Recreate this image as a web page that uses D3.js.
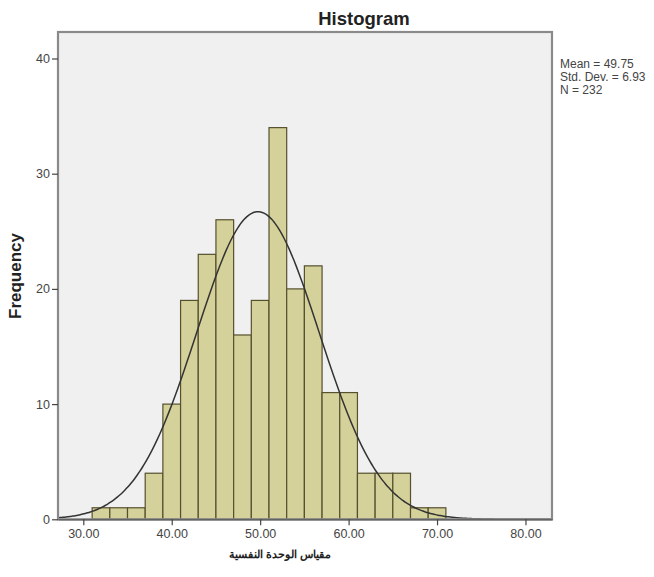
<!DOCTYPE html>
<html>
<head>
<meta charset="utf-8">
<script src="https://cdn.jsdelivr.net/npm/d3@7"></script>
<style>
  body { margin: 0; background: #fff; }
  text { font-family: "Liberation Sans", Arial, sans-serif; }
</style>
</head>
<body>
<svg id="chart" width="654" height="577"></svg>
<script>
// histogram bins (lower edge) and counts
const binStarts = [31, 33, 35, 37, 39, 41, 43, 45, 47, 49, 51, 53, 55, 57, 59, 61, 63, 65, 67, 69];
const counts = [1, 1, 1, 4, 10, 19, 23, 26, 16, 19, 34, 20, 22, 11, 11, 4, 4, 4, 1, 1];
const binWidth = 2;
const xTicks = [30, 40, 50, 60, 70, 80];
const yTicks = [0, 10, 20, 30, 40];
const stats = { mean: 49.75, sd: 6.93, n: 232 };
const legendLines = ["Mean = 49.75", "Std. Dev. = 6.93", "N = 232"];
const xTitle = "مقياس الوحدة النفسية";

const svg = d3.select("#chart");
const plot = { left: 58, top: 32, right: 552, bottom: 519.3 };

const x = d3.scaleLinear().domain([27.14, 83.0]).range([plot.left, plot.right]);
const y = d3.scaleLinear().domain([0, 42.3]).range([plot.bottom, plot.top]);

// background
svg.append("rect")
  .attr("x", plot.left).attr("y", plot.top)
  .attr("width", plot.right - plot.left).attr("height", plot.bottom - plot.top)
  .attr("fill", "#f0f0f0");

svg.append("clipPath").attr("id", "clip")
  .append("rect")
  .attr("x", plot.left).attr("y", plot.top)
  .attr("width", plot.right - plot.left).attr("height", plot.bottom - plot.top);

// bars
svg.append("g").selectAll("rect")
  .data(binStarts.map((b, i) => ({ x0: b, x1: b + binWidth, c: counts[i] })))
  .join("rect")
  .attr("x", d => x(d.x0))
  .attr("y", d => y(d.c))
  .attr("width", d => x(d.x1) - x(d.x0))
  .attr("height", d => y(0) - y(d.c))
  .attr("fill", "#d5d19a")
  .attr("stroke", "#55502e")
  .attr("stroke-width", 1.2);

// normal curve
const k = stats.n * binWidth / (stats.sd * Math.sqrt(2 * Math.PI));
const curvePts = d3.range(200).map(i => {
  const v = x.domain()[0] + (x.domain()[1] - x.domain()[0]) * i / 199;
  return [v, k * Math.exp(-0.5 * ((v - stats.mean) / stats.sd) ** 2)];
});
svg.append("path")
  .datum(curvePts)
  .attr("clip-path", "url(#clip)")
  .attr("fill", "none")
  .attr("stroke", "#333")
  .attr("stroke-width", 1.5)
  .attr("d", d3.line().x(d => x(d[0])).y(d => y(d[1])).curve(d3.curveBasis));

// frame
svg.append("rect")
  .attr("x", plot.left).attr("y", plot.top)
  .attr("width", plot.right - plot.left).attr("height", plot.bottom - plot.top)
  .attr("fill", "none")
  .attr("stroke", "#8a8a8a")
  .attr("stroke-width", 2.2);

// axes
const xAxis = svg.append("g")
  .attr("transform", `translate(0,${plot.bottom})`)
  .call(d3.axisBottom(x).tickValues(xTicks).tickFormat(d3.format(".2f"))
    .tickSize(6).tickSizeOuter(0).tickPadding(4));
const yAxis = svg.append("g")
  .attr("transform", `translate(${plot.left},0)`)
  .call(d3.axisLeft(y).tickValues(yTicks).tickFormat(d3.format("d"))
    .tickSize(6).tickSizeOuter(0).tickPadding(2));
[xAxis, yAxis].forEach(a => {
  a.select(".domain").attr("stroke", "#555").attr("stroke-width", 1.2);
  a.selectAll(".tick line").attr("stroke", "#444").attr("stroke-width", 1.2);
  a.selectAll(".tick text").attr("fill", "#444").attr("font-size", 12.5)
    .attr("font-family", "Liberation Sans, Arial, sans-serif");
});
yAxis.select(".domain").remove();

// titles
svg.append("text")
  .attr("x", 364).attr("y", 25)
  .attr("text-anchor", "middle")
  .attr("font-size", 18.5).attr("font-weight", "bold")
  .attr("fill", "#222")
  .text("Histogram");

svg.append("text")
  .attr("transform", "translate(21,276) rotate(-90)")
  .attr("text-anchor", "middle")
  .attr("font-size", 17).attr("font-weight", "bold")
  .attr("fill", "#222")
  .text("Frequency");

svg.append("text")
  .attr("x", 280).attr("y", 558)
  .attr("text-anchor", "middle")
  .attr("font-family", "DejaVu Sans, sans-serif")
  .attr("font-size", 11).attr("font-weight", "bold")
  .attr("fill", "#222")
  .text(xTitle);

// legend
svg.append("g").selectAll("text")
  .data(legendLines)
  .join("text")
  .attr("x", 560)
  .attr("y", (d, i) => 68 + i * 13)
  .attr("font-size", 12)
  .attr("fill", "#444")
  .text(d => d);
</script>
</body>
</html>
